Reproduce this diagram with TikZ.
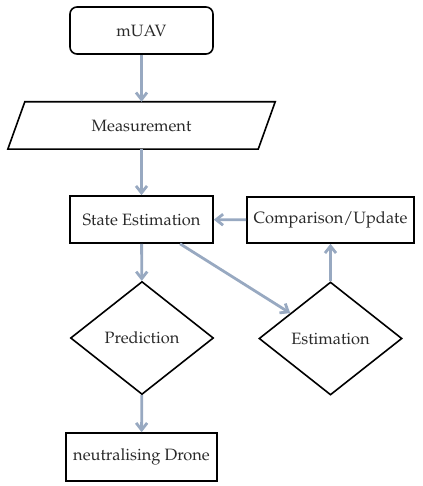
\documentclass[tikz,border=0pt]{standalone}
\usepackage[T1]{fontenc}
\usepackage{mathpazo}
\usetikzlibrary{shapes.geometric,arrows.meta}
\definecolor{arrowc}{HTML}{98A9C1}
\definecolor{txtc}{HTML}{2A2A2A}
\tikzset{
  box/.style={draw=black, line width=1.6pt, rectangle, inner sep=0pt, text=txtc},
  rbox/.style={box, rounded corners=7pt},
  dia/.style={draw=black, line width=1.6pt, diamond, inner sep=0pt, minimum width=143pt, minimum height=113pt, text=txtc},
  flow/.style={draw=arrowc, line width=2.8pt, -{Straight Barb[length=7pt,width=11pt]}},
}
\begin{document}
\begin{tikzpicture}[x=1pt,y=-1pt,font=\fontsize{16.4}{19}\selectfont]
\useasboundingbox (0,0) rectangle (422,486);
\node[rbox, minimum width=143pt, minimum height=47pt] (muav) at (141.5,30.5) {mUAV};
\node[inner sep=0pt, minimum width=267pt, minimum height=47pt, text=txtc] (meas) at (141.5,125.5) {Measurement};
\draw[line width=1.6pt] ([xshift=17pt]meas.north west) -- (meas.north east) -- ([xshift=-17pt]meas.south east) -- (meas.south west) -- cycle;
\node[box, minimum width=143pt, minimum height=47pt] (se) at (141.5,219.5) {State Estimation};
\node[box, minimum width=167pt, minimum height=46pt] (cmp) at (330.5,220) {Comparison/Update};
\node[dia] (pred) at (142,338) {Prediction};
\node[dia] (est) at (330.5,338.5) {Estimation};
\node[box, minimum width=151pt, minimum height=48pt] (neut) at (141.5,457) {neutralising Drone};
\draw[flow] (muav) -- (meas);
\draw[flow] (meas) -- (se);
\draw[flow] (cmp) -- (se);
\draw[flow] (se) -- (pred);
\draw[flow] (se) -- (est);
\draw[flow] (est) -- (cmp);
\draw[flow] (pred) -- (neut);
\end{tikzpicture}
\end{document}
